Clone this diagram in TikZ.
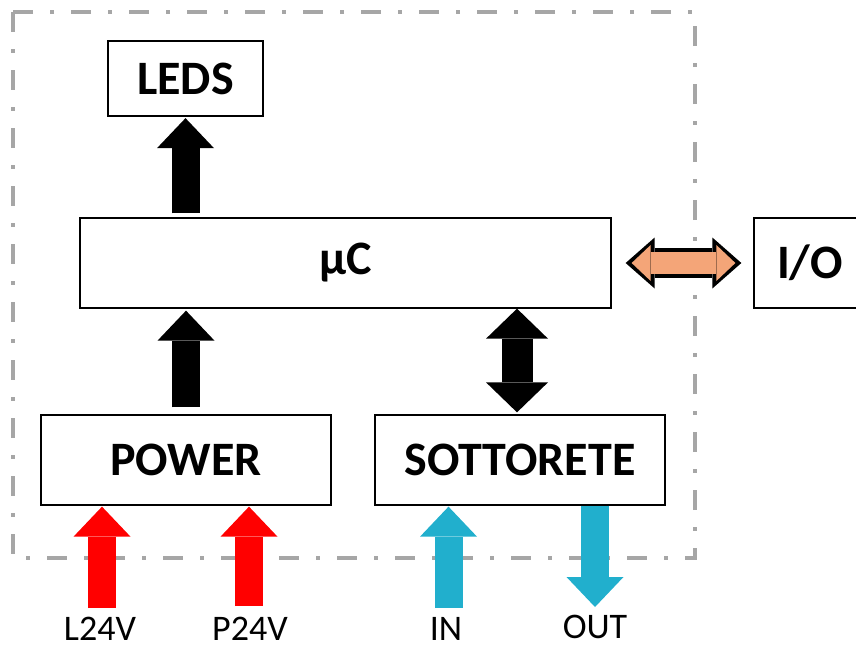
\documentclass[tikz,border=0pt]{standalone}
\usepackage{fontspec}
\setmainfont{Carlito}
\usetikzlibrary{arrows.meta}
\definecolor{rahmen}{RGB}{166,166,166}
\definecolor{rot}{RGB}{255,0,0}
\definecolor{blau}{RGB}{33,175,205}
\definecolor{iofarbe}{RGB}{244,165,120}

\tikzset{
	box/.style={draw, line width=1.3pt, minimum width=#1, minimum height=90pt, inner sep=0pt,
		font=\fontsize{48}{52}\selectfont\bfseries},
	lbl/.style={font=\fontsize{36}{40}\selectfont, inner sep=0pt, anchor=base},
	blockarrow/.style={line width=28pt, -{Triangle[width=57pt,length=30pt,line width=0pt]}},
	dblarrow/.style={line width=31pt, {Triangle[width=62pt,length=30pt,line width=0pt]}-{Triangle[width=62pt,length=30pt,line width=0pt]}},
	ioout/.style={black, line width=30pt, {Triangle[width=51pt,length=29pt,line width=0pt]}-{Triangle[width=51pt,length=29pt,line width=0pt]}},
	ioin/.style={iofarbe, line width=22pt, {Triangle[width=36pt,length=19pt,line width=0pt]}-{Triangle[width=36pt,length=19pt,line width=0pt]}},
}

\begin{document}
\begin{tikzpicture}[x=1pt, y=-1pt]
	\useasboundingbox (0,0) rectangle (856,648);

	% Rahmen
	\draw[rahmen, line width=4.5pt, dash pattern=on 20pt off 17pt on 4pt off 17pt] (13,12) rectangle (695,558);

	% Bloecke
	\node[box=155pt, minimum height=75pt] (leds) at (185.5,78.5) {LEDS};
	\node[box=531pt] (uc) at (345.5,263) {µC};
	\node[box=290pt] (power) at (186,460) {POWER};
	\node[box=290pt] (sotto) at (520,460) {SOTTORETE};
	\node[box=112pt] (io) at (810,263) {I/O};

	% Pfeile innen
	\draw[blockarrow] ([yshift=4pt]uc.north -| leds.south) -- ([yshift=-1.5pt]leds.south);
	\draw[blockarrow] ([yshift=7pt]power.north) -- ([yshift=-2pt]power.north |- uc.south);
	\draw[dblarrow] ([xshift=-3pt,yshift=2pt]sotto.north) -- ([xshift=-3pt]sotto.north |- uc.south);

	% I/O
	\draw[ioout] ([xshift=14pt]uc.east) -- ([xshift=-12pt]io.west);
	\draw[ioin] ([xshift=20pt]uc.east) -- ([xshift=-18pt]io.west);

	% Eingaenge / Ausgaenge
	\coordinate (l24) at (102,608);
	\coordinate (p24) at (249,606);
	\coordinate (in) at (448.5,608);
	\coordinate (out) at (595,607);

	\draw[blockarrow, rot] (l24) -- ([xshift=-84pt,yshift=-1pt]power.south);
	\draw[blockarrow, rot] (p24) -- ([xshift=63pt,yshift=-1pt]power.south);
	\draw[blockarrow, blau] (in) -- ([xshift=-71.5pt,yshift=-1pt]sotto.south);
	\draw[blockarrow, blau] ([xshift=75pt]sotto.south) -- (out);

	\node[lbl] (l24v) at (100,640) {L24V};
	\node[lbl] (p24v) at (250,640) {P24V};
	\node[lbl] (inl) at (446,640) {IN};
	\node[lbl] (outl) at (595,638) {OUT};

\end{tikzpicture}
\end{document}
